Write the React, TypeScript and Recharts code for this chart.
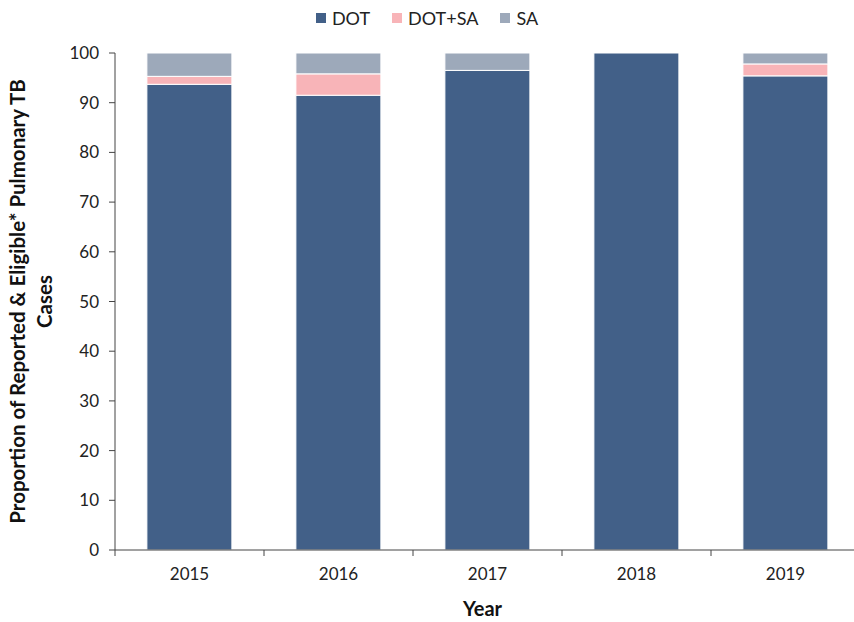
import { Bar, BarChart, XAxis, YAxis } from 'recharts';

const years = ['2015', '2016', '2017', '2018', '2019'];
const dot = [93.7, 91.5, 96.5, 100, 95.4];
const dotSa = [1.6, 4.3, 0, 0, 2.4];
const sa = [4.7, 4.2, 3.5, 0, 2.2];
const yTicks = [0, 10, 20, 30, 40, 50, 60, 70, 80, 90, 100];

const COLORS = { dot: '#426088', dotSa: '#F8B4B8', sa: '#9DA9BA' };
const FONT = 'Lato, "Open Sans", sans-serif';
const PLOT_W = 745; // plot area runs a little past the right edge of the picture

const data = years.map((year, i) => ({ year, dot: dot[i], dotSa: dotSa[i], sa: sa[i] }));

const legendItems = [
  { label: 'DOT', color: COLORS.dot },
  { label: 'DOT+SA', color: COLORS.dotSa },
  { label: 'SA', color: COLORS.sa },
];

function TopLegend() {
  return (
    <div
      style={{
        position: 'absolute',
        top: 7,
        left: 0,
        width: 854,
        display: 'flex',
        justifyContent: 'center',
        gap: 22,
        fontFamily: FONT,
        fontSize: 18,
        color: '#222',
        zIndex: 1,
      }}
    >
      {legendItems.map((it) => (
        <span key={it.label} style={{ display: 'flex', alignItems: 'center', gap: 6 }}>
          <span style={{ width: 10, height: 10, background: it.color, display: 'inline-block' }} />
          {it.label}
        </span>
      ))}
    </div>
  );
}

// x ticks sit on the category boundaries, labels on the centre
function YearTick({ x, y, payload }: { x?: number; y?: number; payload?: { value: string } }) {
  const band = PLOT_W / years.length;
  const left = (x ?? 0) - band / 2;
  return (
    <g>
      <line x1={left} x2={left} y1={(y ?? 0) - 8} y2={(y ?? 0) - 2} stroke="#444" />
      <text x={x} y={(y ?? 0) + 22} textAnchor="middle" fontFamily={FONT} fontSize={17} fill="#222">
        {payload?.value}
      </text>
    </g>
  );
}

function YLabel({ viewBox }: { viewBox?: { x: number; y: number; width: number; height: number } }) {
  const cy = (viewBox?.y ?? 0) + (viewBox?.height ?? 0) / 2;
  return (
    <text
      transform={`translate(25, ${cy}) rotate(-90)`}
      textAnchor="middle"
      fontFamily={FONT}
      fontSize={20.5}
      fontWeight="bold"
      fill="#111"
    >
      <tspan x={0} dy={0}>Proportion of Reported &amp; Eligible* Pulmonary TB</tspan>
      <tspan x={0} dy={27}>Cases</tspan>
    </text>
  );
}

export default function App() {
  return (
    <div style={{ position: 'absolute', left: 0, top: 0, width: 854, height: 622, overflow: 'hidden', background: '#fff' }}>
      <TopLegend />
      <BarChart
        width={115 + PLOT_W}
        height={622}
        data={data}
        margin={{ top: 53, right: 0, bottom: 0, left: 0 }}
        barCategoryGap="21.4%"
      >
        <XAxis
          dataKey="year"
          height={72}
          stroke="#444"
          tickLine={false}
          tick={<YearTick />}
          interval={0}
          label={{ value: 'Year', position: 'insideBottom', offset: 6, dx: -5, fontFamily: FONT, fontSize: 20, fontWeight: 'bold', fill: '#111' }}
        />
        <YAxis
          width={115}
          domain={[0, 100]}
          ticks={yTicks}
          interval={0}
          stroke="#444"
          tickSize={6}
          tickMargin={10}
          tick={{ fontFamily: FONT, fontSize: 17, fill: '#222' }}
          label={<YLabel />}
        />
        <Bar dataKey="dot" stackId="a" fill={COLORS.dot} stroke="#fff" strokeWidth={1} isAnimationActive={false} />
        <Bar dataKey="dotSa" stackId="a" fill={COLORS.dotSa} stroke="#fff" strokeWidth={1} isAnimationActive={false} />
        <Bar dataKey="sa" stackId="a" fill={COLORS.sa} stroke="#fff" strokeWidth={1} isAnimationActive={false} />
      </BarChart>
    </div>
  );
}
